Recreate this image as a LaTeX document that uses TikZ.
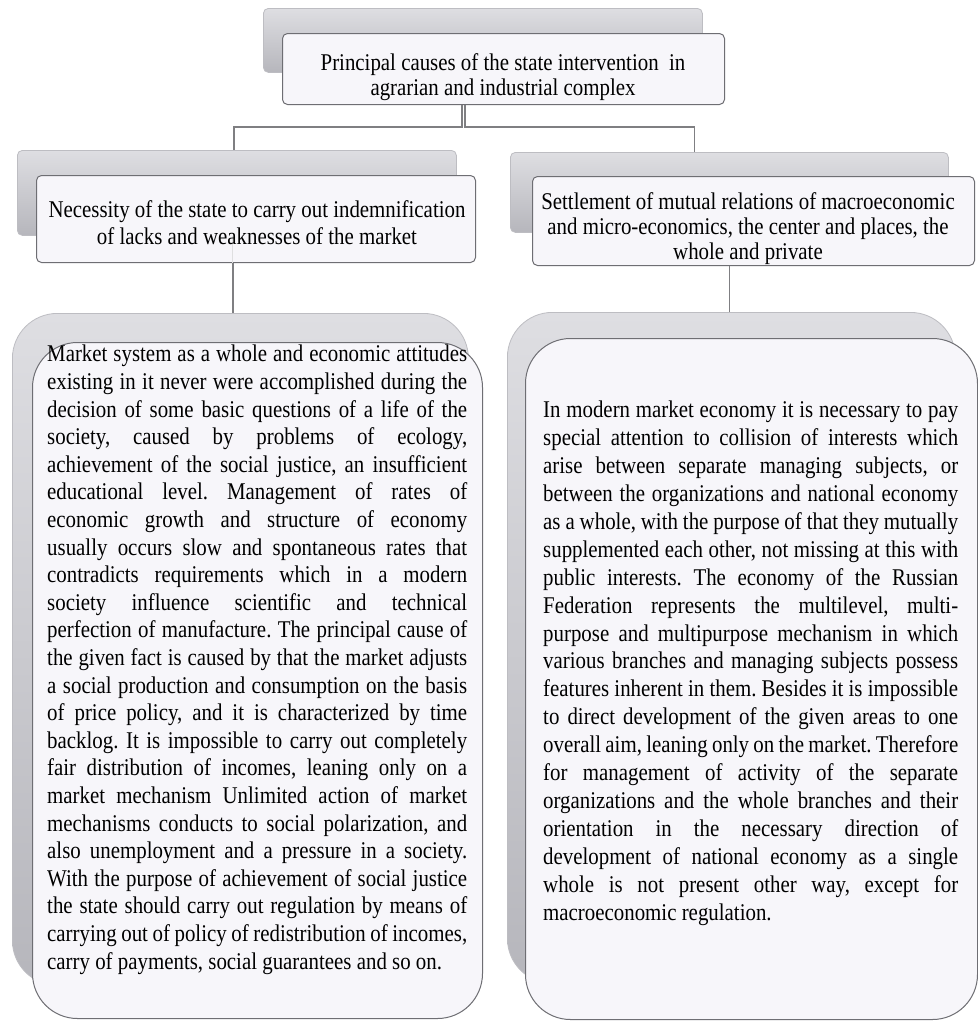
\documentclass[tikz,border=0pt]{standalone}
\usepackage{fontspec}
\setmainfont{Liberation Serif}[FakeStretch=0.87]
\usetikzlibrary{calc}
\definecolor{edgec}{HTML}{6E6E73}
\definecolor{connc}{HTML}{7F7F82}
\definecolor{backtop}{HTML}{DEDEE2}
\definecolor{backbot}{HTML}{B6B6BC}
\definecolor{backedge}{HTML}{BDBDC2}
\definecolor{frontfill}{HTML}{F7F6FA}
\newcommand\jln[1]{\hbox to \hsize{#1}}
\newcommand\lln[1]{\hbox to \hsize{#1\hfil}}
\newcommand\cln[1]{\hbox to \hsize{\hfil#1\hfil}}
\frenchspacing
\begin{document}
\begin{tikzpicture}[x=1pt,y=-1pt,
  back/.style={draw=backedge, line width=0.8pt, top color=backtop, bottom color=backbot, anchor=north west, inner sep=0pt},
  front/.style={draw=edgec, line width=1pt, fill=frontfill, anchor=north west, inner sep=0pt},
  conn/.style={draw=connc, line width=1.3pt},
  faint/.style={draw=connc!25, line width=1pt},
  txt/.style={inner sep=0pt, font=\fontsize{24pt}{26pt}\selectfont\frenchspacing}]
\useasboundingbox[fill=white] (0,0) rectangle (978,1021);
% back boxes
\node[back, rounded corners=5pt, minimum width=439pt, minimum height=64pt] (topB) at (263,8) {};
\node[back, rounded corners=5pt, minimum width=439pt, minimum height=85pt] (lB) at (17,150) {};
\node[back, rounded corners=5pt, minimum width=438pt, minimum height=80pt] (rB) at (510,152) {};
\node[back, rounded corners=45pt, minimum width=456pt, minimum height=672pt] (lbB) at (12,313) {};
\node[back, rounded corners=45pt, minimum width=448pt, minimum height=671pt] (rbB) at (507,312) {};
% front boxes
\node[front, rounded corners=5pt, minimum width=442pt, minimum height=71pt] (topF) at (282,33) {};
\node[front, rounded corners=5pt, minimum width=439pt, minimum height=87pt] (lF) at (36,175) {};
\node[front, rounded corners=5pt, minimum width=442pt, minimum height=89pt] (rF) at (532,176) {};
\node[front, rounded corners=45pt, minimum width=450pt, minimum height=676pt] (lbF) at (32,342) {};
\node[front, rounded corners=45pt, minimum width=452pt, minimum height=681pt] (rbF) at (525,338) {};
% connectors
\coordinate (barL) at (462,127);
\coordinate (barR) at (465,127);
\draw[conn] (barL |- topF.south) -- (barL) -| ([xshift=-3pt]lB.north);
\draw[conn] (barR |- topF.south) -- (barR) -| ([xshift=-35pt]rB.north);
\draw[faint] ([xshift=-4pt]lB.south) -- ([xshift=-4pt]lB.south |- lF.south);
\draw[conn] ([xshift=-4pt]lB.south |- lF.south) -- ([xshift=-4pt]lB.south |- lbB.north);
\draw[conn] (rB.south |- rF.south) -- (rB.south |- rbB.north);
% texts
\node[txt, anchor=base] (topT) at (503,95) {\vbox{\hsize=442pt\baselineskip=25pt
  \cln{Principal causes of the state intervention\ \ in}
  \cln{agrarian and industrial complex}}};
\node[txt, anchor=base] (lT) at (257,244) {\vbox{\hsize=439pt\baselineskip=27pt
  \cln{Necessity of the state to carry out indemnification}
  \cln{of lacks and weaknesses of the market}}};
\node[txt, anchor=base] (rT) at (748,259) {\vbox{\hsize=442pt\baselineskip=25pt
  \cln{Settlement of mutual relations of macroeconomic}
  \cln{and micro-economics, the center and places, the}
  \cln{whole and private}}};
\node[txt, anchor=base west] (lbT) at (47,969) {\vbox{\hsize=420pt\baselineskip=27.6pt
  \jln{Market system as a whole and economic attitudes}
  \jln{existing in it never were accomplished during the}
  \jln{decision of some basic questions of a life of the}
  \jln{society, caused by problems of ecology,}
  \jln{achievement of the social justice, an insufficient}
  \jln{educational level. Management of rates of}
  \jln{economic growth and structure of economy}
  \jln{usually occurs slow and spontaneous rates that}
  \jln{contradicts requirements which in a modern}
  \jln{society influence scientific and technical}
  \jln{perfection of manufacture. The principal cause of}
  \jln{the given fact is caused by that the market adjusts}
  \jln{a social production and consumption on the basis}
  \jln{of price policy, and it is characterized by time}
  \jln{backlog. It is impossible to carry out completely}
  \jln{fair distribution of incomes, leaning only on a}
  \jln{market mechanism Unlimited action of market}
  \jln{mechanisms conducts to social polarization, and}
  \jln{also unemployment and a pressure in a society.}
  \jln{With the purpose of achievement of social justice}
  \jln{the state should carry out regulation by means of}
  \jln{carrying out of policy of redistribution of incomes,}
  \lln{carry of payments, social guarantees and so on.}}};
\node[txt, anchor=base west] (rbT) at (543,920) {\vbox{\hsize=415pt\baselineskip=27.9pt
  \jln{In modern market economy it is necessary to pay}
  \jln{special attention to collision of interests which}
  \jln{arise between separate managing subjects, or}
  \jln{between the organizations and national economy}
  \jln{as a whole, with the purpose of that they mutually}
  \jln{supplemented each other, not missing at this with}
  \jln{public interests. The economy of the Russian}
  \jln{Federation represents the multilevel, multi-}
  \jln{purpose and multipurpose mechanism in which}
  \jln{various branches and managing subjects possess}
  \jln{features inherent in them. Besides it is impossible}
  \jln{to direct development of the given areas to one}
  \jln{overall aim, leaning only on the market. Therefore}
  \jln{for management of activity of the separate}
  \jln{organizations and the whole branches and their}
  \jln{orientation in the necessary direction of}
  \jln{development of national economy as a single}
  \jln{whole is not present other way, except for}
  \lln{macroeconomic regulation.}}};
\end{tikzpicture}
\end{document}
